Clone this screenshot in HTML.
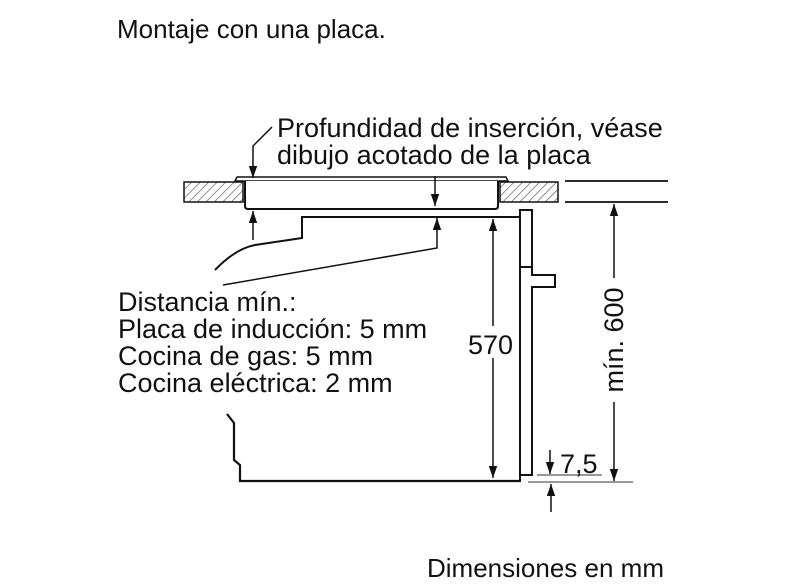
<!DOCTYPE html>
<html><head><meta charset="utf-8"><style>
html,body{margin:0;padding:0;background:#fff;}
svg{display:block}
text{font-family:"Liberation Sans",sans-serif;fill:#111;}
</style></head><body>
<svg width="786" height="587" viewBox="0 0 786 587" xmlns="http://www.w3.org/2000/svg">
<defs>
<pattern id="h" width="6" height="6" patternUnits="userSpaceOnUse" patternTransform="rotate(45)">
<rect width="6" height="6" fill="#fff"/><line x1="0" y1="0" x2="0" y2="6" stroke="#555" stroke-width="1.3"/>
</pattern>
<marker id="a" viewBox="0 0 10 10" refX="10" refY="5" markerWidth="12" markerHeight="12" orient="auto-start-reverse" markerUnits="userSpaceOnUse"><path d="M0,1.5 L10,5 L0,8.5 Z" fill="#111"/></marker>
</defs>
<text x="117" y="38" font-size="26">Montaje con una placa.</text>
<text x="277" y="137" font-size="27">Profundidad de inserción, véase</text>
<text x="277" y="164" font-size="27">dibujo acotado de la placa</text>
<text x="118" y="311" font-size="27">Distancia mín.:</text>
<text x="118" y="338" font-size="27">Placa de inducción: 5 mm</text>
<text x="118" y="365" font-size="27">Cocina de gas: 5 mm</text>
<text x="118" y="392" font-size="27">Cocina eléctrica: 2 mm</text>
<text x="427" y="577" font-size="26">Dimensiones en mm</text>
<g stroke="#111" fill="none" stroke-width="2">
<rect x="184" y="182" width="59" height="20" fill="url(#h)" stroke-width="1.5"/>
<rect x="500" y="182" width="58" height="20" fill="url(#h)" stroke-width="1.5"/>
<path d="M235,181 L237,177 L506,177 L508,181 Z" stroke-width="1.5" fill="#fff"/>
<path d="M245,181 L245,206 Q245,209 248,209 L495,209 Q498,209 498,206 L498,181" stroke-width="2" fill="#fff"/>
<line x1="565" y1="181" x2="668" y2="181" stroke-width="1.8"/>
<line x1="565" y1="202" x2="668" y2="202" stroke-width="1.8"/>
<path d="M272,127 L253,146 L253,178" stroke-width="1.5" marker-end="url(#a)"/>
<line x1="435" y1="176" x2="435" y2="206" stroke-width="1.5" marker-end="url(#a)"/>
<line x1="253" y1="240" x2="253" y2="211" stroke-width="1.5" marker-end="url(#a)"/>
<path d="M520,217 L302,217 L302,238 L255,245 Q235,249 215,270" stroke-width="2"/>
<path d="M223,285 L437,248 L437,218" stroke-width="1.5" marker-end="url(#a)"/>
<line x1="493" y1="219" x2="493" y2="478" stroke-width="1.5" marker-start="url(#a)" marker-end="url(#a)"/>
<rect x="520" y="210" width="12" height="57" stroke-width="2" fill="#fff"/>
<path d="M520,267 L520,480 M532,267 L532,275 L555,275 L555,287 L532,287 L532,475 L520,475" stroke-width="2"/>
<path d="M227,414 L234,423 L234,460 L240,465 L240,481 L521,481" stroke-width="2.2"/>
<line x1="537" y1="475" x2="602" y2="475" stroke="#777" stroke-width="1.5"/>
<line x1="528" y1="482" x2="633" y2="482" stroke="#777" stroke-width="1.5"/>
<line x1="550" y1="450" x2="550" y2="474" stroke-width="1.5" marker-end="url(#a)"/>
<line x1="551" y1="512" x2="551" y2="484" stroke-width="1.5" marker-end="url(#a)"/>
<line x1="614" y1="204" x2="614" y2="278" stroke-width="1.5" marker-start="url(#a)"/>
<line x1="614" y1="402" x2="614" y2="481" stroke-width="1.5" marker-end="url(#a)"/>
</g>
<rect x="468" y="326" width="50" height="32" fill="#fff"/>
<text x="468" y="354" font-size="27">570</text>
<text x="560" y="473" font-size="27">7,5</text>
<text transform="translate(623,340) rotate(-90)" font-size="27" text-anchor="middle">mín. 600</text>
</svg>
</body></html>
